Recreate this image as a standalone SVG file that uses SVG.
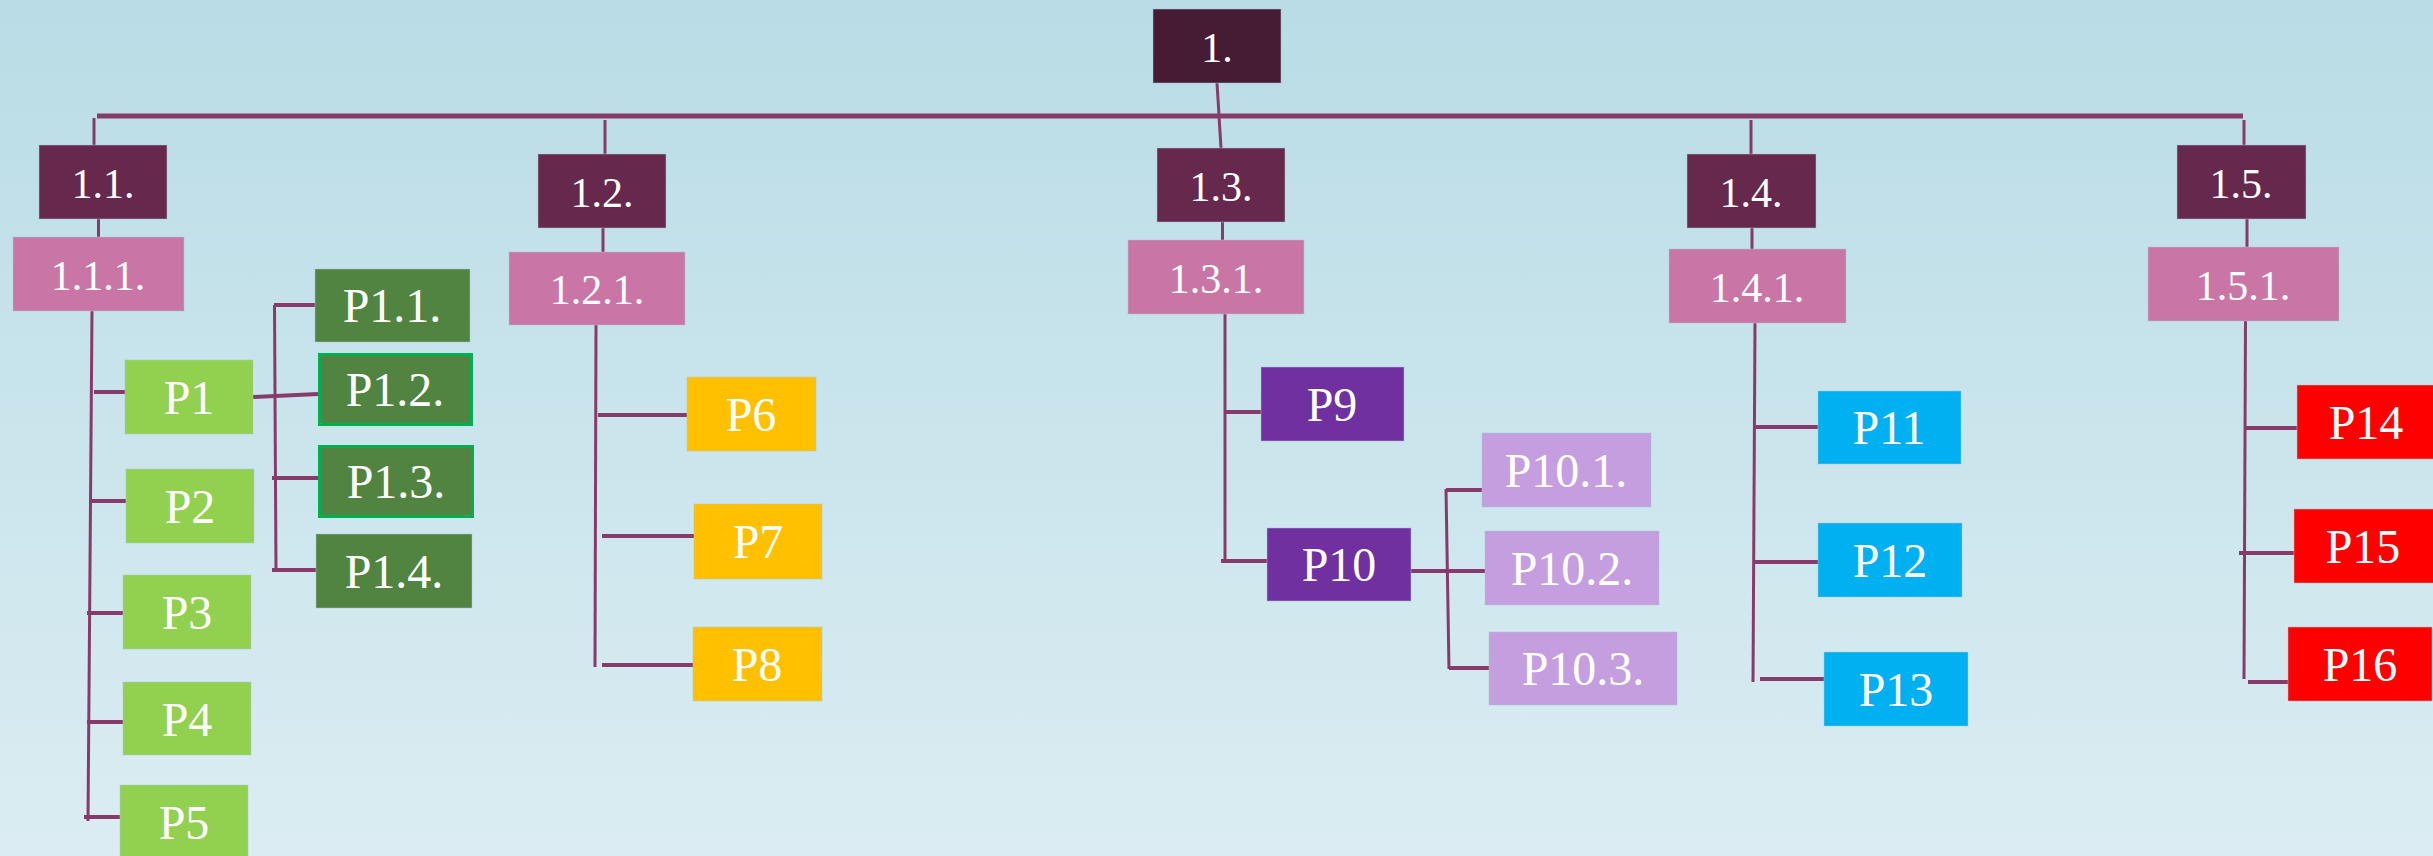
<svg xmlns="http://www.w3.org/2000/svg" width="2433" height="856" viewBox="0 0 2433 856">
<defs>
<linearGradient id="bg" x1="0" y1="0" x2="0" y2="1">
<stop offset="0" stop-color="#B9DCE6"/>
<stop offset="1" stop-color="#DBEDF2"/>
</linearGradient>
</defs>
<style>
.b{stroke:#A9C9D6;stroke-width:1;stroke-opacity:0.5}
.k0{fill:#461B34}
.k1{fill:#66284D}
.k2{fill:#C976A6}
.lg{fill:#92D050}
.dg{fill:#508440}
.dgb{fill:#508440;stroke:#00B050;stroke-width:3}
.go{fill:#FFC000}
.pu{fill:#7030A0}
.li{fill:#C59EE0}
.cy{fill:#00B0F0}
.rd{fill:#FF0000}
text{font-family:"Liberation Serif","DejaVu Serif",serif;fill:#FFFFFF;text-anchor:middle}
.t1{font-size:42px}
.t2{font-size:48px}
.c line{stroke:#873B6B;stroke-width:4;stroke-linecap:butt}
.c .th{stroke-width:3}
.c .m{stroke-width:5}
</style>
<rect x="0" y="0" width="2433" height="856" fill="url(#bg)"/>
<g class="c" id="connectors">
<line x1="1217" y1="83" x2="1221" y2="148" class="th"/>
<line x1="97" y1="116" x2="2243" y2="116" class="m"/>
<line x1="94" y1="118" x2="94" y2="145" class="th"/>
<line x1="605" y1="120" x2="605" y2="154" class="th"/>
<line x1="1751" y1="120" x2="1751" y2="154" class="th"/>
<line x1="2244" y1="120" x2="2244" y2="145" class="th"/>
<line x1="98.5" y1="219" x2="98.5" y2="237" class="th"/>
<line x1="603" y1="228" x2="603" y2="252" class="th"/>
<line x1="1222.5" y1="222" x2="1222.5" y2="240" class="th"/>
<line x1="1752" y1="228" x2="1752" y2="249" class="th"/>
<line x1="2247" y1="219" x2="2247" y2="247" class="th"/>
<line x1="92" y1="311" x2="88" y2="821" class="th"/>
<line x1="94" y1="392" x2="125" y2="392"/>
<line x1="92" y1="501" x2="126" y2="501"/>
<line x1="87" y1="613" x2="123" y2="613"/>
<line x1="87" y1="722" x2="123" y2="722"/>
<line x1="84" y1="817" x2="120" y2="817"/>
<line x1="253" y1="397" x2="318" y2="394"/>
<line x1="274.5" y1="305" x2="276" y2="570" class="th"/>
<line x1="274" y1="305" x2="315" y2="305"/>
<line x1="272" y1="478" x2="318" y2="478"/>
<line x1="272" y1="570" x2="316" y2="570"/>
<line x1="596" y1="325" x2="595" y2="667" class="th"/>
<line x1="598" y1="415" x2="688" y2="415"/>
<line x1="602" y1="536" x2="694" y2="536"/>
<line x1="602" y1="665" x2="693" y2="665"/>
<line x1="1225" y1="314" x2="1225" y2="562" class="th"/>
<line x1="1225" y1="412" x2="1261" y2="412"/>
<line x1="1221" y1="561" x2="1267" y2="561"/>
<line x1="1411" y1="571" x2="1485" y2="571"/>
<line x1="1446" y1="489" x2="1449" y2="669" class="th"/>
<line x1="1446" y1="490" x2="1482" y2="490"/>
<line x1="1449" y1="668" x2="1489" y2="668"/>
<line x1="1755" y1="323" x2="1753" y2="682" class="th"/>
<line x1="1755" y1="427" x2="1818" y2="427"/>
<line x1="1754" y1="562" x2="1818" y2="562"/>
<line x1="1760" y1="679" x2="1824" y2="679"/>
<line x1="2245.5" y1="321" x2="2244" y2="679" class="th"/>
<line x1="2245" y1="428" x2="2297" y2="428"/>
<line x1="2239" y1="553" x2="2294" y2="553"/>
<line x1="2248" y1="682" x2="2288" y2="682"/>
</g>
<g id="n1"><rect class="k0 b" x="1153" y="9" width="128" height="74"/><text class="t1" x="1217" y="62">1.</text></g>
<g id="n1_1"><rect class="k1 b" x="39" y="145" width="128" height="74"/><text class="t1" x="103" y="198">1.1.</text></g>
<g id="n1_2"><rect class="k1 b" x="538" y="154" width="128" height="74"/><text class="t1" x="602" y="207">1.2.</text></g>
<g id="n1_3"><rect class="k1 b" x="1157" y="148" width="128" height="74"/><text class="t1" x="1221" y="201">1.3.</text></g>
<g id="n1_4"><rect class="k1 b" x="1687" y="154" width="129" height="74"/><text class="t1" x="1751" y="207">1.4.</text></g>
<g id="n1_5"><rect class="k1 b" x="2177" y="145" width="129" height="74"/><text class="t1" x="2241" y="198">1.5.</text></g>
<g id="n1_1_1"><rect class="k2 b" x="13" y="237" width="171" height="74"/><text class="t1" x="98" y="290">1.1.1.</text></g>
<g id="n1_2_1"><rect class="k2 b" x="509" y="252" width="176" height="73"/><text class="t1" x="597" y="304">1.2.1.</text></g>
<g id="n1_3_1"><rect class="k2 b" x="1128" y="240" width="176" height="74"/><text class="t1" x="1216" y="293">1.3.1.</text></g>
<g id="n1_4_1"><rect class="k2 b" x="1669" y="249" width="177" height="74"/><text class="t1" x="1757" y="302">1.4.1.</text></g>
<g id="n1_5_1"><rect class="k2 b" x="2148" y="247" width="191" height="74"/><text class="t1" x="2243" y="300">1.5.1.</text></g>
<g id="p1"><rect class="lg b" x="125" y="360" width="128" height="74"/><text class="t2" x="189" y="414">P1</text></g>
<g id="p2"><rect class="lg b" x="126" y="469" width="128" height="74"/><text class="t2" x="190" y="523">P2</text></g>
<g id="p3"><rect class="lg b" x="123" y="575" width="128" height="74"/><text class="t2" x="187" y="629">P3</text></g>
<g id="p4"><rect class="lg b" x="123" y="682" width="128" height="73"/><text class="t2" x="187" y="736">P4</text></g>
<g id="p5"><rect class="lg b" x="120" y="785" width="128" height="74"/><text class="t2" x="184" y="839">P5</text></g>
<g id="p1_1"><rect class="dg b" x="315" y="269" width="155" height="73"/><text class="t2" x="392" y="322">P1.1.</text></g>
<g id="p1_2"><rect class="dgb" x="319.5" y="354.5" width="152" height="70"/><text class="t2" x="395" y="406">P1.2.</text></g>
<g id="p1_3"><rect class="dgb" x="319.5" y="446.5" width="153" height="70"/><text class="t2" x="396" y="498">P1.3.</text></g>
<g id="p1_4"><rect class="dg b" x="316" y="534" width="156" height="74"/><text class="t2" x="394" y="588">P1.4.</text></g>
<g id="p6"><rect class="go b" x="687" y="377" width="129" height="74"/><text class="t2" x="751" y="431">P6</text></g>
<g id="p7"><rect class="go b" x="694" y="504" width="128" height="75"/><text class="t2" x="758" y="558">P7</text></g>
<g id="p8"><rect class="go b" x="693" y="627" width="129" height="74"/><text class="t2" x="757" y="681">P8</text></g>
<g id="p9"><rect class="pu b" x="1261" y="367" width="143" height="74"/><text class="t2" x="1332" y="421">P9</text></g>
<g id="p10"><rect class="pu b" x="1267" y="528" width="144" height="73"/><text class="t2" x="1339" y="581">P10</text></g>
<g id="p10_1"><rect class="li b" x="1482" y="433" width="169" height="74"/><text class="t2" x="1566" y="487">P10.1.</text></g>
<g id="p10_2"><rect class="li b" x="1485" y="531" width="174" height="74"/><text class="t2" x="1572" y="585">P10.2.</text></g>
<g id="p10_3"><rect class="li b" x="1489" y="632" width="188" height="73"/><text class="t2" x="1583" y="685">P10.3.</text></g>
<g id="p11"><rect class="cy b" x="1818" y="391" width="143" height="73"/><text class="t2" x="1889" y="444">P11</text></g>
<g id="p12"><rect class="cy b" x="1818" y="523" width="144" height="74"/><text class="t2" x="1890" y="577">P12</text></g>
<g id="p13"><rect class="cy b" x="1824" y="652" width="144" height="74"/><text class="t2" x="1896" y="706">P13</text></g>
<g id="p14"><rect class="rd b" x="2297" y="385" width="144" height="74"/><text class="t2" x="2366" y="439">P14</text></g>
<g id="p15"><rect class="rd b" x="2294" y="509" width="144" height="74"/><text class="t2" x="2363" y="563">P15</text></g>
<g id="p16"><rect class="rd b" x="2288" y="627" width="144" height="74"/><text class="t2" x="2360" y="681">P16</text></g>
</svg>
